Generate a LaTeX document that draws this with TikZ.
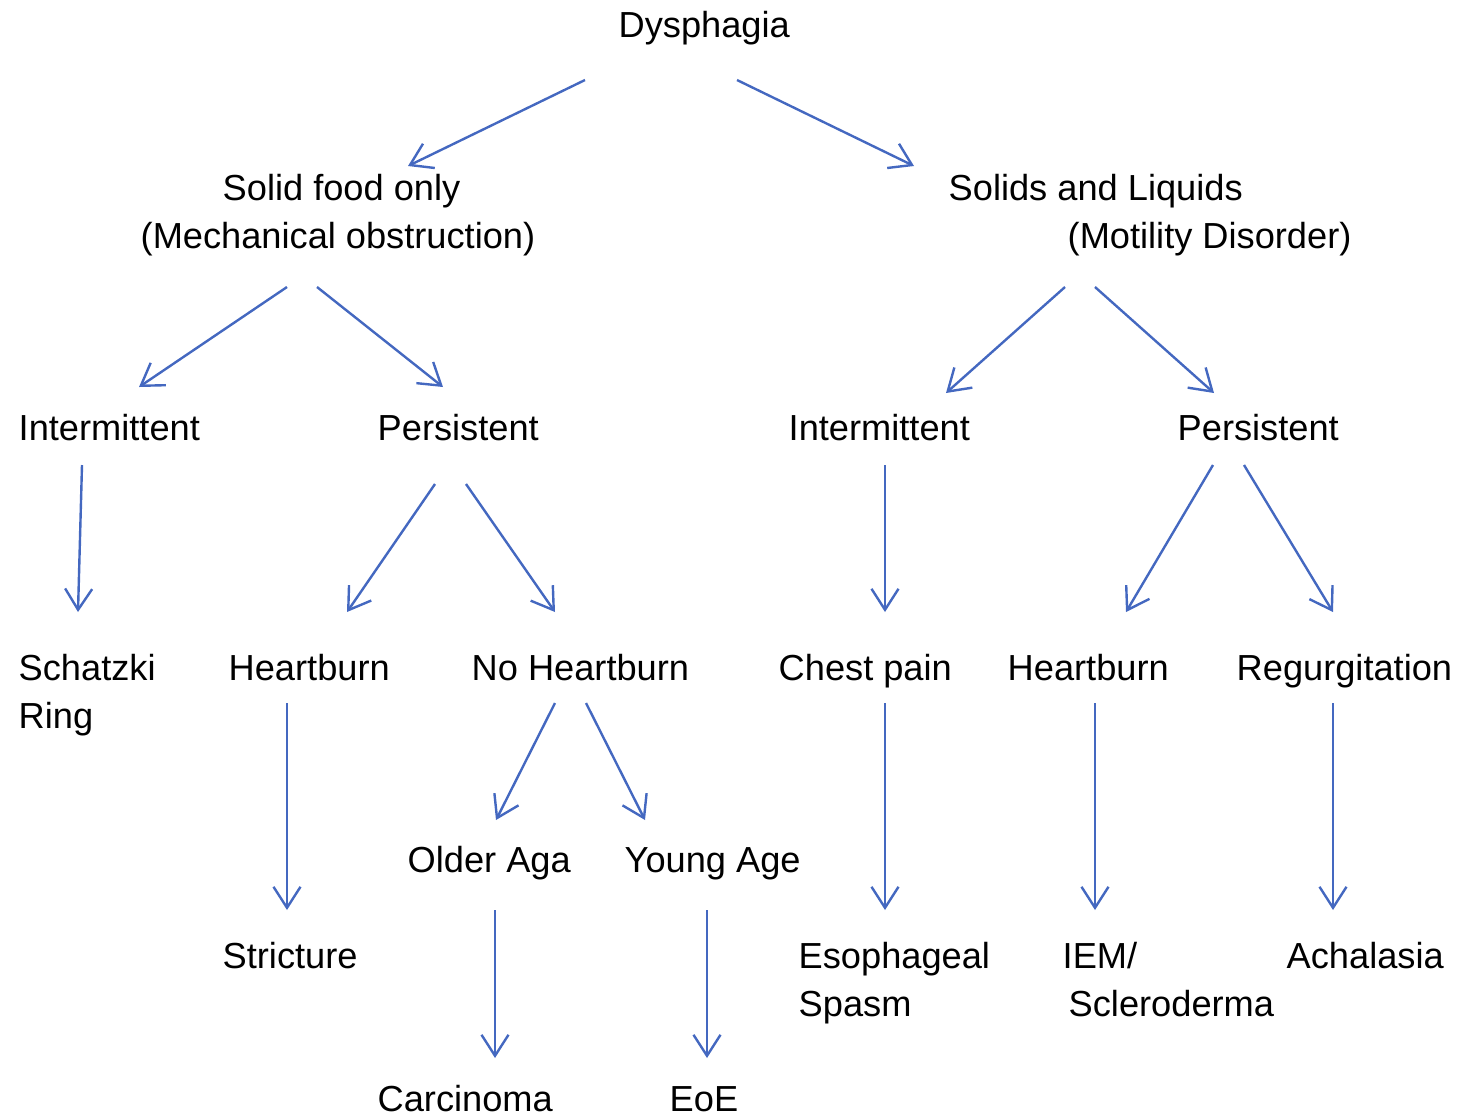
\documentclass[tikz,border=0pt]{standalone}
\usepackage{fontspec}
\setmainfont{Liberation Sans}
\usetikzlibrary{arrows.meta}
\definecolor{arr}{RGB}{68,104,192}
\begin{document}
\begin{tikzpicture}[x=0.01cm,y=-0.01cm,
  lbl/.style={anchor=base west,inner sep=0pt,font=\fontsize{10.3pt}{13.6pt}\selectfont,text=black},
  conn/.style={draw=arr,line width=0.024cm,-{Straight Barb[length=0.21cm,width=0.27cm,line width=0.024cm]}}]
\useasboundingbox (0,0) rectangle (1460,1117);
% labels
\node[lbl] (dys) at (618,37) {Dysphagia};
\node[lbl] (solid) at (222,200) {Solid food only};
\node[lbl] (mech) at (140,248) {(Mechanical obstruction)};
\node[lbl] (sl) at (948,200) {Solids and Liquids};
\node[lbl] (mot) at (1067,248) {(Motility Disorder)};
\node[lbl] (int1) at (18,440) {Intermittent};
\node[lbl] (per1) at (377,440) {Persistent};
\node[lbl] (int2) at (788,440) {Intermittent};
\node[lbl] (per2) at (1177,440) {Persistent};
\node[lbl] (sch) at (18,680) {Schatzki};
\node[lbl] (ring) at (18,728) {Ring};
\node[lbl] (hb1) at (228,680) {Heartburn};
\node[lbl] (nohb) at (471,680) {No Heartburn};
\node[lbl] (chest) at (778,680) {Chest pain};
\node[lbl] (hb2) at (1007,680) {Heartburn};
\node[lbl] (reg) at (1236,680) {Regurgitation};
\node[lbl] (old) at (407,872) {Older Aga};
\node[lbl] (young) at (624,872) {Young Age};
\node[lbl] (str) at (222,968) {Stricture};
\node[lbl] (eso) at (798,968) {Esophageal};
\node[lbl] (spa) at (798,1016) {Spasm};
\node[lbl] (iem) at (1062,968) {IEM/};
\node[lbl] (scl) at (1068,1016) {Scleroderma};
\node[lbl] (ach) at (1286,968) {Achalasia};
\node[lbl] (car) at (377,1111) {Carcinoma};
\node[lbl] (eoe) at (669,1111) {EoE};
% connector end points
\coordinate (a1s) at (585,80);   \coordinate (a1e) at (408,166);
\coordinate (a2s) at (737,80);   \coordinate (a2e) at (914,166);
\coordinate (a3s) at (287,287);  \coordinate (a3e) at (139,387);
\coordinate (a4s) at (317,287);  \coordinate (a4e) at (443,387);
\coordinate (a5s) at (1065,287); \coordinate (a5e) at (946,393);
\coordinate (a6s) at (1095,287); \coordinate (a6e) at (1214,393);
\coordinate (a7s) at (82,465);   \coordinate (a7e) at (78,612);
\coordinate (a8s) at (435,484);  \coordinate (a8e) at (347,612);
\coordinate (a9s) at (466,484);  \coordinate (a9e) at (555,612);
\coordinate (a10s) at (885,465); \coordinate (a10e) at (885,612);
\coordinate (a11s) at (1213,465);\coordinate (a11e) at (1126,612);
\coordinate (a12s) at (1244,465);\coordinate (a12e) at (1333,612);
\coordinate (a13s) at (287,703); \coordinate (a13e) at (287,910);
\coordinate (a14s) at (555,703); \coordinate (a14e) at (496,820);
\coordinate (a15s) at (586,703); \coordinate (a15e) at (645,820);
\coordinate (a16s) at (885,703); \coordinate (a16e) at (885,910);
\coordinate (a17s) at (1095,703);\coordinate (a17e) at (1095,910);
\coordinate (a18s) at (1333,703);\coordinate (a18e) at (1333,910);
\coordinate (a19s) at (495,910); \coordinate (a19e) at (495,1058);
\coordinate (a20s) at (707,910); \coordinate (a20e) at (707,1058);
\foreach \i in {1,...,20} {\draw[conn] (a\i s) -- (a\i e);}
\end{tikzpicture}
\end{document}
